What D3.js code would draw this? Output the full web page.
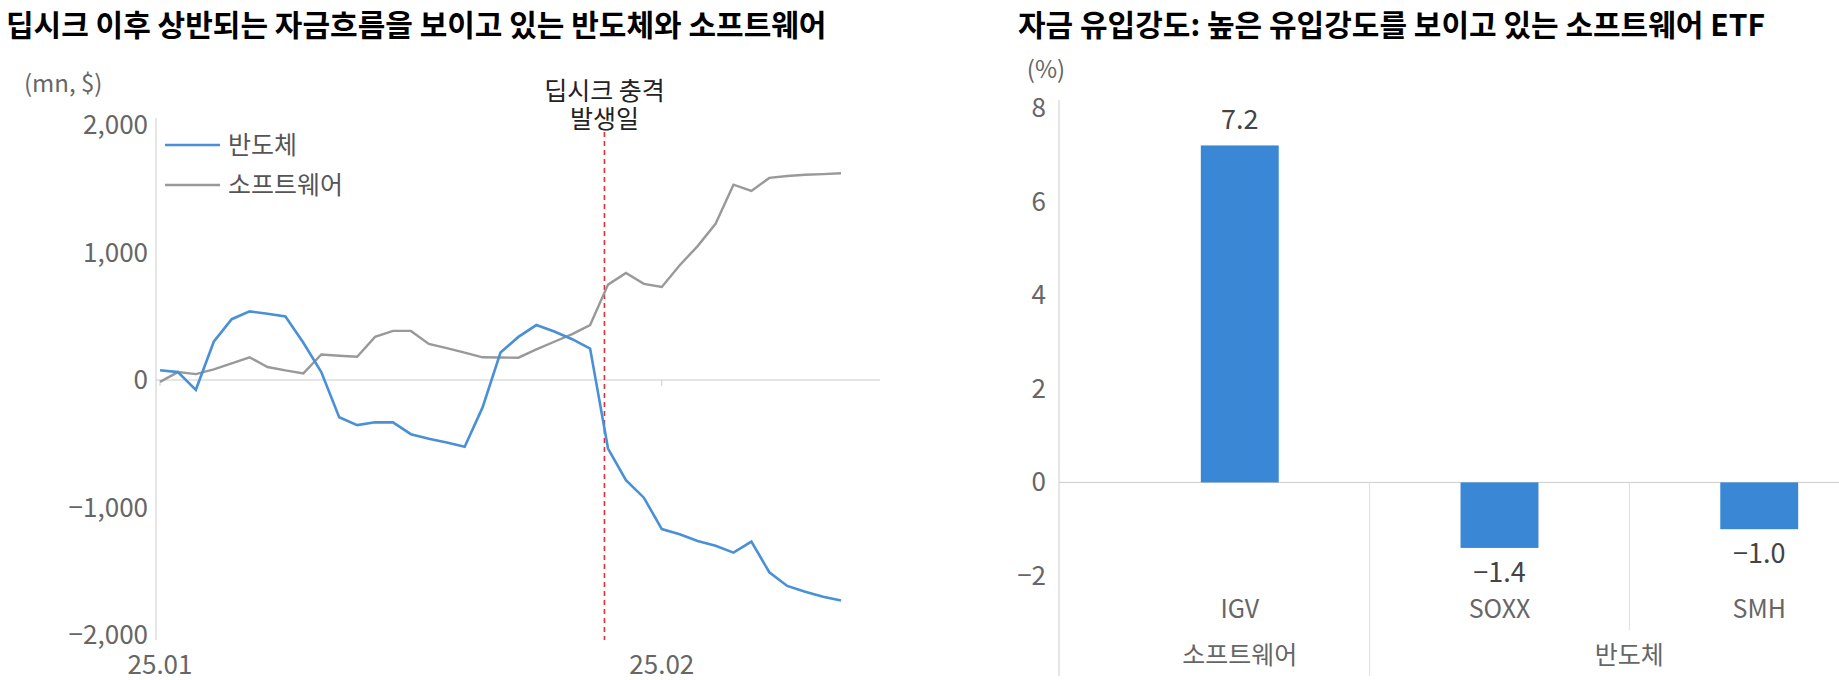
<!DOCTYPE html><html><head><meta charset="utf-8"><script src="https://cdn.jsdelivr.net/npm/d3@7"></script>
<style>body{margin:0;background:#fff}text{font-family:"Noto Sans CJK KR","Noto Sans",sans-serif}</style></head><body>
<svg id="c" width="1839" height="680"></svg>
<script>
const semi=[77,62,-77,300,477,538,520,498,292,62,-292,-354,-332,-332,-425,-460,-490,-523,-215,215,338,431,380,320,246,-538,-785,-923,-1169,-1210,-1262,-1300,-1354,-1268,-1508,-1615,-1660,-1700,-1729];
const soft=[-15,62,46,83,130,178,102,75,52,200,190,182,338,385,385,283,250,215,178,176,175,240,300,360,431,748,840,754,729,900,1050,1225,1532,1483,1585,1600,1610,1615,1622];
const xTicks=[{i:0,label:"25.01"},{i:28,label:"25.02"}];
const shockIdx=24.8;
const yTicks=[-2000,-1000,0,1000,2000];
const etf=["IGV","SOXX","SMH"];
const etfVal=[7.2,-1.4,-1.0];
const groups=[{name:"소프트웨어",from:0,to:1},{name:"반도체",from:1,to:3}];
const svg=d3.select("#c");
const fmtN=v=>v<0?"−"+d3.format(",")(-v):d3.format(",")(v);
svg.append("text").attr("x",6).attr("y",36).attr("font-size",30).attr("font-weight",700).text("딥시크 이후 상반되는 자금흐름을 보이고 있는 반도체와 소프트웨어");
svg.append("text").attr("x",1018).attr("y",36).attr("font-size",30).attr("font-weight",700).text("자금 유입강도: 높은 유입강도를 보이고 있는 소프트웨어 ETF");
const x=d3.scaleLinear().domain([0,38]).range([160,841]);
const y=d3.scaleLinear().domain([-2000,2000]).range([635,125]);
const g=svg.append("g");
g.append("line").attr("x1",156).attr("x2",156).attr("y1",118).attr("y2",640).attr("stroke","#ccc");
g.append("line").attr("x1",156).attr("x2",880).attr("y1",y(0)).attr("y2",y(0)).attr("stroke","#ccc");
yTicks.forEach(t=>g.append("text").attr("x",148).attr("y",y(t)+9).attr("text-anchor","end").attr("font-size",26).attr("fill","#666").text(fmtN(t)));
xTicks.forEach(t=>{g.append("text").attr("x",x(t.i)).attr("y",674).attr("text-anchor","middle").attr("font-size",26).attr("fill","#666").text(t.label);
 g.append("line").attr("x1",x(t.i)).attr("x2",x(t.i)).attr("y1",y(0)).attr("y2",y(0)+6).attr("stroke","#ccc");});
g.append("text").attr("x",24).attr("y",92).attr("font-size",24).attr("fill","#666").text("(mn, $)");
g.append("line").attr("x1",x(shockIdx)).attr("x2",x(shockIdx)).attr("y1",132).attr("y2",640).attr("stroke","#e0303a").attr("stroke-width",1.6).attr("stroke-dasharray","5,4");
g.append("text").attr("x",x(shockIdx)).attr("y",100).attr("text-anchor","middle").attr("font-size",25).attr("fill","#222").text("딥시크 충격");
g.append("text").attr("x",x(shockIdx)).attr("y",128).attr("text-anchor","middle").attr("font-size",25).attr("fill","#222").text("발생일");
const line=d3.line().x((d,i)=>x(i)).y(d=>y(d));
g.append("path").attr("d",line(soft)).attr("fill","none").attr("stroke","#999").attr("stroke-width",2.4);
g.append("path").attr("d",line(semi)).attr("fill","none").attr("stroke","#4a90d6").attr("stroke-width",2.6);
[["반도체","#4a90d6",145],["소프트웨어","#999",185]].forEach(([n,c,yy])=>{
 g.append("line").attr("x1",165).attr("x2",220).attr("y1",yy).attr("y2",yy).attr("stroke",c).attr("stroke-width",2.6);
 g.append("text").attr("x",228).attr("y",yy+9).attr("font-size",25).attr("fill","#555").text(n);});
const xb=d3.scaleBand().domain(etf).range([1059,1940]).paddingInner(0.7).paddingOuter(0.546);
const yb=d3.scaleLinear().domain([-2,8]).range([576,108]);
const r=svg.append("g");
r.append("line").attr("x1",1059).attr("x2",1059).attr("y1",100).attr("y2",676).attr("stroke","#ccc");
r.append("line").attr("x1",1059).attr("x2",1839).attr("y1",yb(0)).attr("y2",yb(0)).attr("stroke","#ccc");
[-2,0,2,4,6,8].forEach(t=>r.append("text").attr("x",1046).attr("y",yb(t)+9).attr("text-anchor","end").attr("font-size",26).attr("fill","#666").text(t<0?"−"+(-t):t));
r.append("text").attr("x",1046).attr("y",78).attr("text-anchor","middle").attr("font-size",24).attr("fill","#666").text("(%)");
const step=xb.step();
etf.forEach((e,i)=>{
 const v=etfVal[i];
 r.append("rect").attr("x",xb(e)).attr("width",xb.bandwidth()).attr("y",yb(Math.max(0,v))).attr("height",Math.abs(yb(v)-yb(0))).attr("fill","#3a87d6");
 r.append("text").attr("x",xb(e)+xb.bandwidth()/2).attr("y",v>0?yb(v)-16:yb(v)+34).attr("text-anchor","middle").attr("font-size",27).attr("fill","#444").text(v<0?"−"+(-v).toFixed(1):v.toFixed(1));
 r.append("text").attr("x",xb(e)+xb.bandwidth()/2).attr("y",618).attr("text-anchor","middle").attr("font-size",25).attr("fill","#666").text(e);
 if(i>0){const bx=xb(e)-step*xb.paddingInner()/2; r.append("line").attr("x1",bx).attr("x2",bx).attr("y1",yb(0)).attr("y2",groups.some(gp=>gp.from===i)?676:630).attr("stroke","#ddd");}
});
groups.forEach(gp=>{const a=xb(etf[gp.from]),b=xb(etf[gp.to-1])+xb.bandwidth();
 r.append("text").attr("x",(a+b)/2).attr("y",664).attr("text-anchor","middle").attr("font-size",25).attr("fill","#666").text(gp.name);});
</script></body></html>
